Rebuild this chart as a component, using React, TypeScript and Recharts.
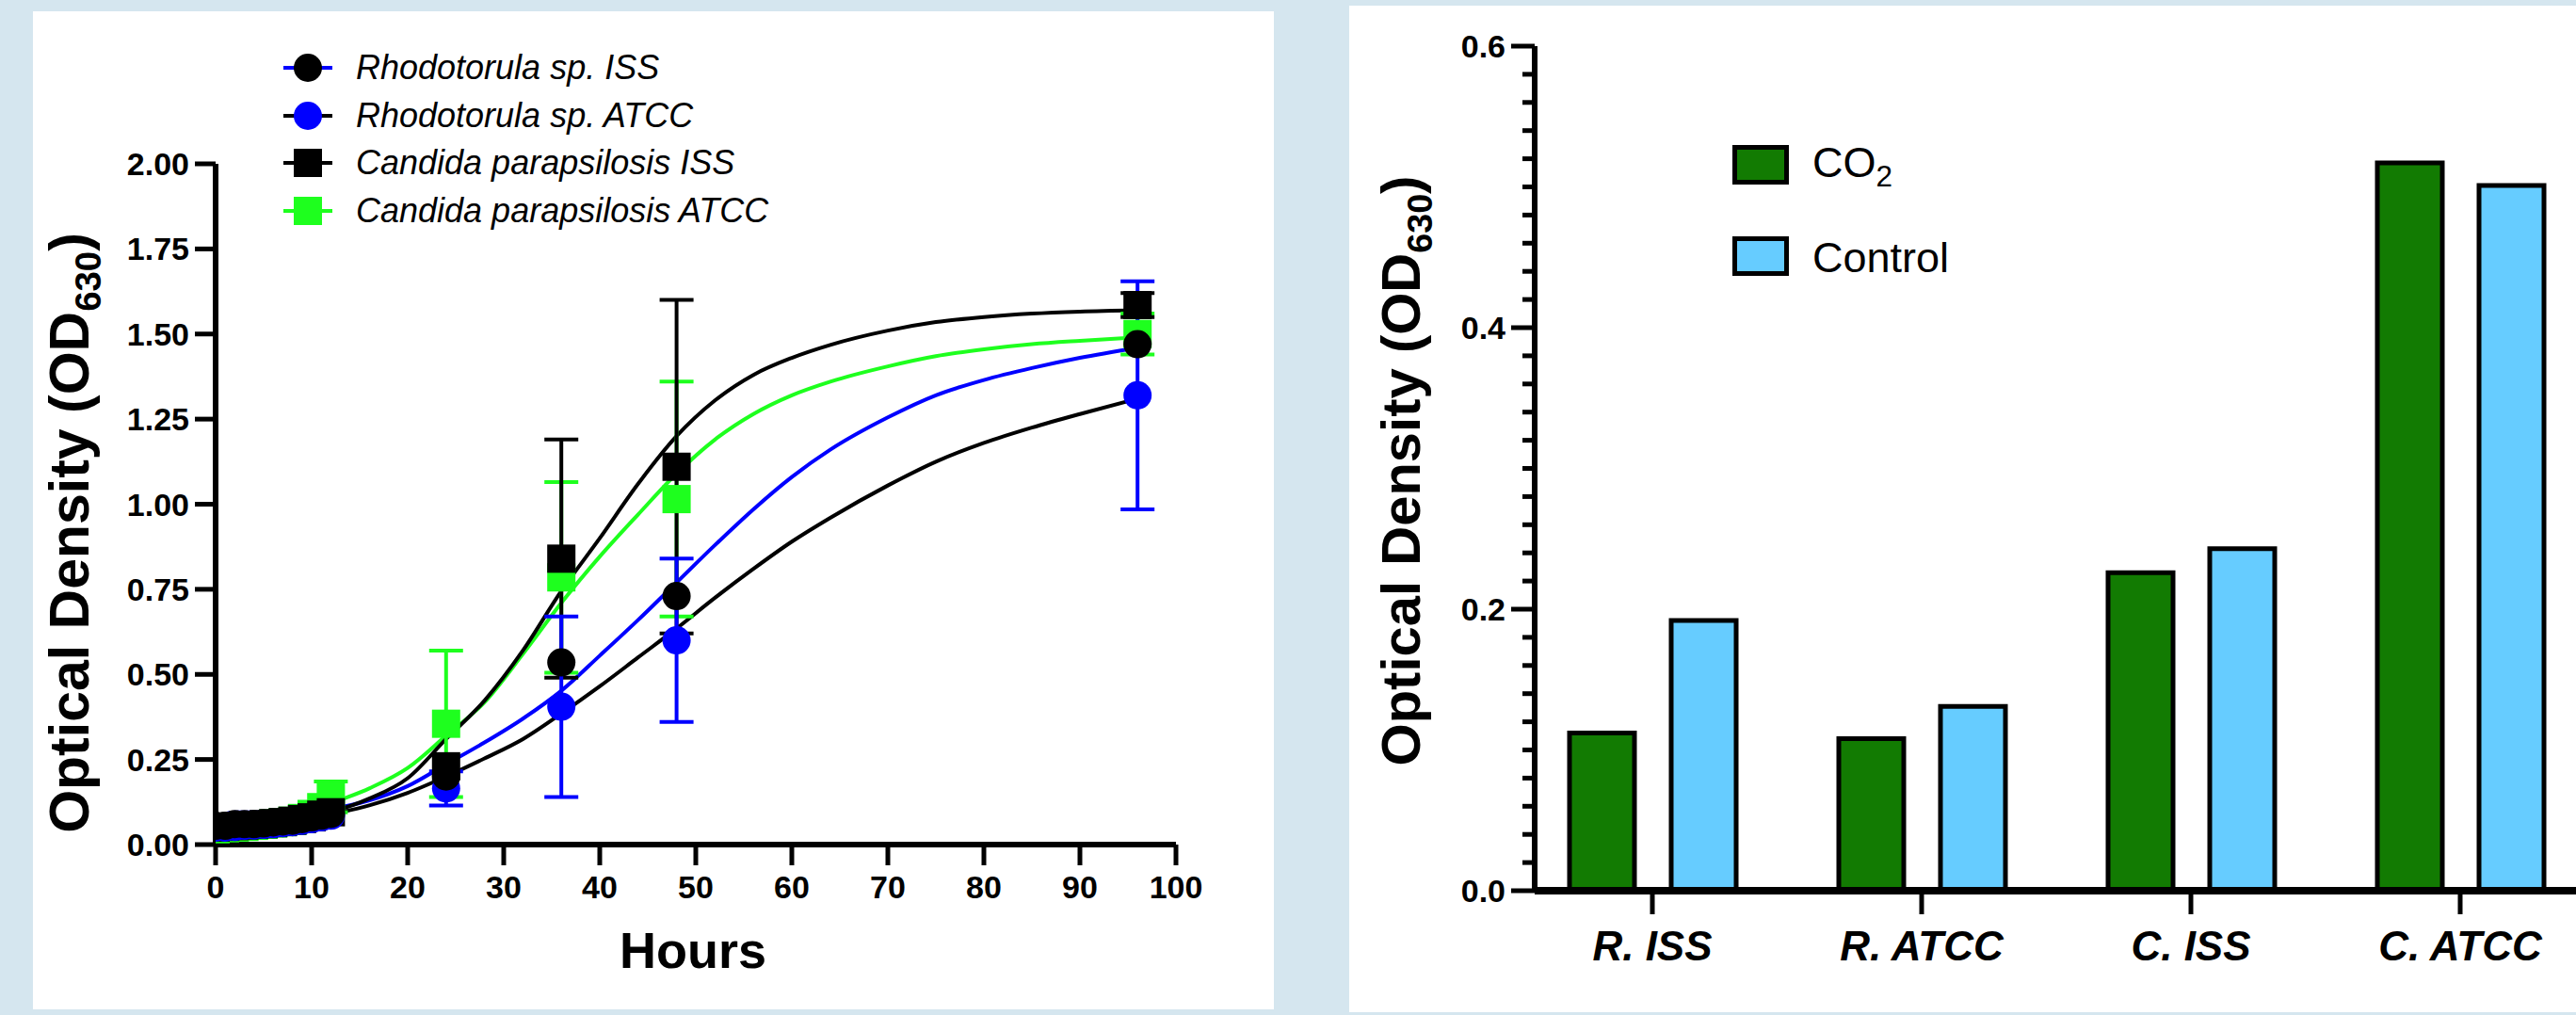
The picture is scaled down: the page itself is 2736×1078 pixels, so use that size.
import React from 'react';
import {
  ComposedChart, Line, Scatter, ErrorBar, XAxis, YAxis,
  BarChart, Bar,
} from 'recharts';

const FONT = '"Liberation Sans", Arial, Helvetica, sans-serif';
const BLUE = '#0000ff';
const GREEN = '#1eff1e';
const BLACK = '#000000';

// ---- growth curves (left panel) ----
const sampleHours = [0, 1, 2, 3, 4, 5, 6, 7, 8, 9, 10, 11, 12, 24, 36, 48, 96];
const rhodoIssOD = [0.055, 0.055, 0.06, 0.06, 0.06, 0.062, 0.065, 0.068, 0.07, 0.075, 0.08, 0.085, 0.09, 0.2, 0.535, 0.73, 1.47];
const rhodoAtccOD = [0.05, 0.05, 0.052, 0.055, 0.056, 0.058, 0.06, 0.063, 0.066, 0.07, 0.075, 0.08, 0.085, 0.165, 0.405, 0.6, 1.32];
const candIssOD = [0.05, 0.052, 0.054, 0.056, 0.058, 0.06, 0.063, 0.066, 0.07, 0.075, 0.08, 0.088, 0.095, 0.23, 0.84, 1.11, 1.585];
const candAtccOD = [0.045, 0.048, 0.05, 0.052, 0.055, 0.058, 0.062, 0.066, 0.07, 0.078, 0.09, 0.11, 0.14, 0.355, 0.785, 1.015, 1.5];

const rhodoIssSD = [0, 0, 0, 0, 0, 0, 0, 0, 0, 0, 0, 0, 0, 0, 0, 0, 0];
const rhodoAtccSD = [0, 0, 0, 0, 0, 0, 0, 0, 0, 0, 0, 0, 0, 0.05, 0.265, 0.24, 0.335];
const candIssSD = [0, 0, 0, 0, 0, 0, 0, 0, 0, 0, 0, 0, 0, 0, 0.35, 0.49, 0.035];
const candAtccSD = [0, 0, 0, 0, 0, 0, 0, 0, 0, 0, 0, 0, 0.045, 0.215, 0.28, 0.345, 0.06];

// fitted curves
const fitHours = [0, 1, 2, 4, 6, 8, 10, 12, 16, 20, 24, 28, 32, 36, 40, 44, 48, 52, 56, 60, 64, 70, 75, 80, 85, 90, 96];
const rhodoIssFit = [0.065, 0.09, 0.095, 0.095, 0.096, 0.098, 0.1, 0.105, 0.13, 0.172, 0.236, 0.3, 0.37, 0.452, 0.555, 0.66, 0.77, 0.88, 0.985, 1.08, 1.16, 1.255, 1.32, 1.365, 1.4, 1.43, 1.46];
const rhodoAtccFit = [0.05, 0.052, 0.055, 0.058, 0.062, 0.068, 0.075, 0.088, 0.115, 0.152, 0.2, 0.253, 0.31, 0.385, 0.465, 0.55, 0.635, 0.725, 0.81, 0.89, 0.96, 1.055, 1.125, 1.18, 1.225, 1.265, 1.31];
const candIssFit = [0.05, 0.052, 0.054, 0.058, 0.063, 0.07, 0.08, 0.095, 0.135, 0.195, 0.31, 0.423, 0.57, 0.745, 0.9, 1.06, 1.2, 1.305, 1.38, 1.43, 1.468, 1.51, 1.535, 1.55, 1.56, 1.566, 1.57];
const candAtccFit = [0.05, 0.053, 0.056, 0.062, 0.07, 0.08, 0.095, 0.12, 0.165, 0.225, 0.32, 0.418, 0.56, 0.71, 0.846, 0.97, 1.09, 1.19, 1.265, 1.32, 1.36, 1.405, 1.435, 1.455, 1.47, 1.48, 1.49];

const hourTicks = [0, 10, 20, 30, 40, 50, 60, 70, 80, 90, 100];
const odTicks = [0, 0.25, 0.5, 0.75, 1, 1.25, 1.5, 1.75, 2];

const legendNames = ['Rhodotorula sp. ISS', 'Rhodotorula sp. ATCC', 'Candida parapsilosis ISS', 'Candida parapsilosis ATCC'];

// ---- CO2 vs control (right panel) ----
const strains = ['R. ISS', 'R. ATCC', 'C. ISS', 'C. ATCC'];
const co2OD = [0.112, 0.108, 0.226, 0.517];
const controlOD = [0.192, 0.131, 0.243, 0.501];
const barTicksMajor = [0, 0.2, 0.4, 0.6];

const pts = (xs: number[], ys: number[], sd?: number[]) =>
  xs.map((x, i) => ({ x, y: ys[i], sd: sd ? sd[i] : 0 }));

const marker = (kind: 'circle' | 'square', fill: string) => (p: any) =>
  kind === 'circle'
    ? <circle cx={p.cx} cy={p.cy} r={15} fill={fill} />
    : <rect x={p.cx - 15} y={p.cy - 15} width={30} height={30} fill={fill} />;

const legendRows = [
  { line: BLUE, kind: 'circle', fill: BLACK },
  { line: BLACK, kind: 'circle', fill: BLUE },
  { line: BLACK, kind: 'square', fill: BLACK },
  { line: GREEN, kind: 'square', fill: GREEN },
];

function MinorTick(props: any) {
  const { x, y, payload } = props;
  const v = payload.value;
  const major = barTicksMajor.some((m) => Math.abs(m - v) < 1e-6);
  return (
    <g>
      <line x1={x - (major ? 25 : 13)} x2={x} y1={y} y2={y} stroke="#000" strokeWidth={5} />
      {major && (
        <text x={x - 31} y={y} dy="0.36em" textAnchor="end" fontSize={34} fontWeight={700} fontFamily={FONT} fill="#000">
          {v.toFixed(1)}
        </text>
      )}
    </g>
  );
}

export default function App() {
  const minorTicks = Array.from({ length: 31 }, (_, i) => Math.round(i * 2) / 100);
  const barData = strains.map((name, i) => ({ name, co2: co2OD[i], control: controlOD[i] }));
  const tickStyle = { fill: '#000', fontSize: 34, fontWeight: 700, fontFamily: FONT };

  return (
    <div style={{ position: 'fixed', left: 0, top: 0, width: 2736, height: 1078, background: '#d5e6ef', overflow: 'hidden', fontFamily: FONT }}>
      {/* panels */}
      <div style={{ position: 'absolute', left: 35, top: 12, width: 1318, height: 1060, background: '#fff' }} />
      <div style={{ position: 'absolute', left: 1433, top: 6, width: 1303, height: 1069, background: '#fff' }} />

      {/* left chart */}
      <div style={{ position: 'absolute', left: 0, top: 0 }}>
        <ComposedChart width={1354} height={1078} margin={{ top: 174, right: 105, bottom: 0, left: 0 }}>
          <XAxis
            type="number"
            dataKey="x"
            domain={[0, 100]}
            ticks={hourTicks}
            height={181}
            tickSize={22}
            tickMargin={11}
            axisLine={{ stroke: '#000', strokeWidth: 6 }}
            tickLine={{ stroke: '#000', strokeWidth: 5 }}
            tick={tickStyle}
            allowDataOverflow
          />
          <YAxis
            type="number"
            dataKey="y"
            domain={[0, 2]}
            ticks={odTicks}
            width={229}
            tickSize={22}
            tickMargin={6}
            tickFormatter={(v: number) => v.toFixed(2)}
            axisLine={{ stroke: '#000', strokeWidth: 6 }}
            tickLine={{ stroke: '#000', strokeWidth: 5 }}
            tick={tickStyle}
            allowDataOverflow
          />
          <Line data={pts(fitHours, rhodoAtccFit)} dataKey="y" type="monotone" stroke={BLACK} strokeWidth={4} dot={false} isAnimationActive={false} />
          <Line data={pts(fitHours, rhodoIssFit)} dataKey="y" type="monotone" stroke={BLUE} strokeWidth={4} dot={false} isAnimationActive={false} />
          <Line data={pts(fitHours, candAtccFit)} dataKey="y" type="monotone" stroke={GREEN} strokeWidth={4} dot={false} isAnimationActive={false} />
          <Line data={pts(fitHours, candIssFit)} dataKey="y" type="monotone" stroke={BLACK} strokeWidth={4} dot={false} isAnimationActive={false} />

          <Scatter data={pts(sampleHours, candAtccOD, candAtccSD)} dataKey="y" shape={marker('square', GREEN)} isAnimationActive={false}>
            <ErrorBar dataKey="sd" direction="y" width={18} strokeWidth={4} stroke={GREEN} />
          </Scatter>
          <Scatter data={pts(sampleHours, candIssOD, candIssSD)} dataKey="y" shape={marker('square', BLACK)} isAnimationActive={false}>
            <ErrorBar dataKey="sd" direction="y" width={18} strokeWidth={4} stroke={BLACK} />
          </Scatter>
          <Scatter data={pts(sampleHours, rhodoAtccOD, rhodoAtccSD)} dataKey="y" shape={marker('circle', BLUE)} isAnimationActive={false}>
            <ErrorBar dataKey="sd" direction="y" width={18} strokeWidth={4} stroke={BLUE} />
          </Scatter>
          <Scatter data={pts(sampleHours, rhodoIssOD, rhodoIssSD)} dataKey="y" shape={marker('circle', BLACK)} isAnimationActive={false}>
            <ErrorBar dataKey="sd" direction="y" width={18} strokeWidth={4} stroke={BLACK} />
          </Scatter>
        </ComposedChart>
      </div>

      {/* left legend */}
      {legendNames.map((name, i) => {
        const row = legendRows[i];
        const cy = 72 + i * 50.5;
        return (
          <div key={name} style={{ position: 'absolute', left: 298, top: cy - 22, height: 44, display: 'flex', alignItems: 'center' }}>
            <svg width={60} height={44}>
              <line x1={3} x2={55} y1={22} y2={22} stroke={row.line} strokeWidth={4} />
              {row.kind === 'circle'
                ? <circle cx={29} cy={22} r={15} fill={row.fill} />
                : <rect x={14} y={7} width={30} height={30} fill={row.fill} />}
            </svg>
            <span style={{ marginLeft: 20, fontSize: 36, fontStyle: 'italic', color: '#000', whiteSpace: 'nowrap' }}>{name}</span>
          </div>
        );
      })}

      {/* left axis titles */}
      <div style={{ position: 'absolute', left: 78, top: 566, transform: 'translate(-50%, -50%) rotate(-90deg)', fontSize: 59, fontWeight: 700, whiteSpace: 'nowrap', color: '#000' }}>
        Optical Density (OD<sub style={{ fontSize: '0.65em' }}>630</sub>)
      </div>
      <div style={{ position: 'absolute', left: 736, top: 1009, transform: 'translate(-50%, -50%)', fontSize: 54, fontWeight: 700, whiteSpace: 'nowrap', color: '#000' }}>
        Hours
      </div>

      {/* right chart */}
      <div style={{ position: 'absolute', left: 1433, top: 0 }}>
        <BarChart width={1347} height={1078} data={barData} margin={{ top: 49, right: 0, bottom: 0, left: 0 }} barGap={39}>
          <XAxis
            dataKey="name"
            height={132}
            padding={{ left: -18, right: 24 }}
            tickSize={25}
            tickMargin={18}
            axisLine={{ stroke: '#000', strokeWidth: 8 }}
            tickLine={{ stroke: '#000', strokeWidth: 5 }}
            tick={{ fill: '#000', fontSize: 44, fontWeight: 700, fontStyle: 'italic', fontFamily: FONT }}
          />
          <YAxis
            type="number"
            domain={[0, 0.6]}
            ticks={minorTicks}
            interval={0}
            width={197}
            tickSize={0}
            tickMargin={0}
            tickLine={false}
            axisLine={{ stroke: '#000', strokeWidth: 6 }}
            tick={<MinorTick />}
          />
          <Bar dataKey="co2" fill="#127b02" stroke="#000" strokeWidth={5} barSize={69} isAnimationActive={false} />
          <Bar dataKey="control" fill="#66ccff" stroke="#000" strokeWidth={5} barSize={69} isAnimationActive={false} />
        </BarChart>
      </div>

      {/* right legend */}
      <div style={{ position: 'absolute', left: 1840, top: 154, width: 50, height: 32, background: '#127b02', border: '5px solid #000' }} />
      <div style={{ position: 'absolute', left: 1925, top: 176, transform: 'translateY(-50%)', fontSize: 45, color: '#000', whiteSpace: 'nowrap' }}>
        CO<sub style={{ fontSize: '0.7em' }}>2</sub>
      </div>
      <div style={{ position: 'absolute', left: 1840, top: 251, width: 50, height: 32, background: '#66ccff', border: '5px solid #000' }} />
      <div style={{ position: 'absolute', left: 1925, top: 274, transform: 'translateY(-50%)', fontSize: 45, color: '#000', whiteSpace: 'nowrap' }}>
        Control
      </div>

      {/* right y title */}
      <div style={{ position: 'absolute', left: 1492, top: 500, transform: 'translate(-50%, -50%) rotate(-90deg)', fontSize: 58, fontWeight: 700, whiteSpace: 'nowrap', color: '#000' }}>
        Optical Density (OD<sub style={{ fontSize: '0.65em' }}>630</sub>)
      </div>
    </div>
  );
}
